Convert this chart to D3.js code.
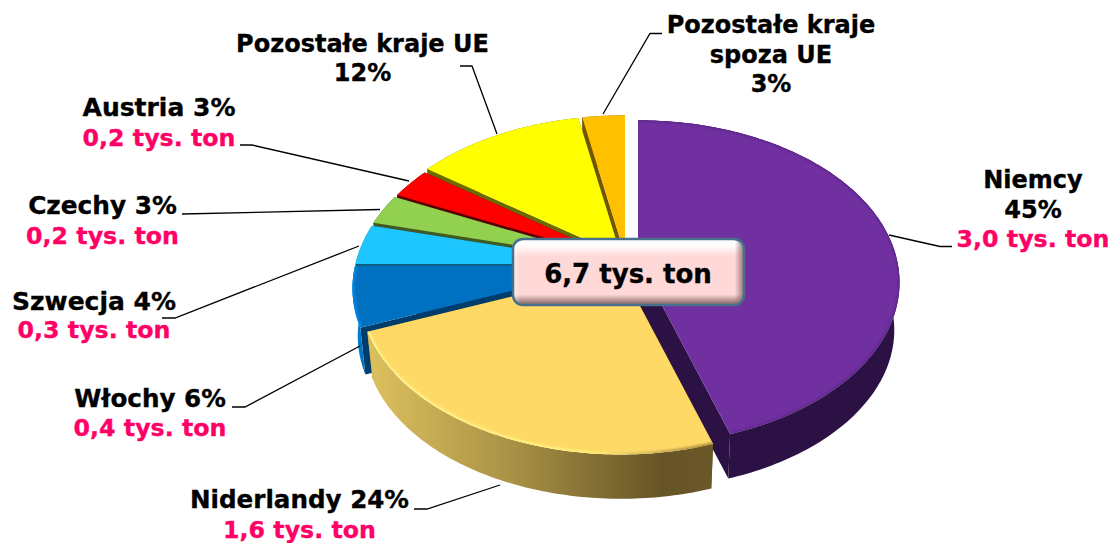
<!DOCTYPE html>
<html>
<head>
<meta charset="utf-8">
<style>
  html, body { margin: 0; padding: 0; background: #fff; }
  svg { display: block; }
  text { font-family: "DejaVu Sans", sans-serif; font-weight: bold; font-size: 24px; text-anchor: middle; stroke-width: 0.35px; }
</style>
</head>
<body>
<div id="chart"></div>
<script src="https://cdn.jsdelivr.net/npm/d3@7"></script>
<script>
// Data
const categories = ["Niemcy", "Niderlandy", "Włochy", "Szwecja", "Czechy", "Austria", "Pozostałe kraje UE", "Pozostałe kraje spoza UE"];
const percents = [45, 24, 6, 4, 3, 3, 12, 3];
const tons = ["3,0", "1,6", "0,4", "0,3", "0,2", "0,2", null, null];
const totalLabel = "6,7 tys. ton";

// Top and side colours
const topColors = ["#7030a0", "#ffd966", "#0070c0", "#1ec6ff", "#92d050", "#ff0000", "#ffff00", "#ffc000"];
const cutColors = ["#2c1244", "#66551f", "#003c6c", "#0e5f80", "#3f5a22", "#5a0000", "#6e6a00", "#705600"];

// Dimensions
const width = 1111, height = 543;
const radiusX = 259, radiusY = 159, tilt = 0.138;
const depth = 48, bottomScale = 0.98;

// Where each slice's centre sits (slices are pulled apart a little)
const apexes = [[638, 260], [621, 270], [614, 266], [614.5, 264], [616, 261], [618.5, 259], [621, 255.5], [625, 255]];
const drawOrder = [0, 7, 6, 5, 4, 3, 2, 1];

// Label placing: x centre, baseline of each line, leader points
const labelLayout = [
    { x: 1033, size: 24, lines: [["Niemcy", 188], ["45%", 218]], leader: [[952, 246.5], [940, 246.5], [889, 235]] },
    { x: 299.5, size: 24.6, lines: [["Niderlandy 24%", 508]], leader: [[414, 509], [427, 509], [500, 485]] },
    { x: 150, size: 24.6, lines: [["Włochy 6%", 407]], leader: [[232, 407], [245, 407], [360, 346]] },
    { x: 94, size: 25, lines: [["Szwecja 4%", 310]], leader: [[162, 318], [175, 318], [359, 246]] },
    { x: 102.5, size: 24.8, lines: [["Czechy 3%", 214]], leader: [[182, 214], [380, 209.5]] },
    { x: 159, size: 25, lines: [["Austria 3%", 116]], leader: [[240, 145], [252, 145], [409, 181]] },
    { x: 362.5, size: 24, lines: [["Pozostałe kraje UE", 52], ["12%", 81]], leader: [[460, 66], [472, 66], [497, 134]] },
    { x: 771, size: 24, lines: [["Pozostałe kraje", 33], ["spoza UE", 63], ["3%", 92]], leader: [[662, 33.5], [650, 33.5], [603, 114]] }
];
const tonBaselines = [247, 538, 436, 338, 244, 146];

const arcs = d3.pie().sort(null).value(d => d)(percents);

const svg = d3.select("#chart")
    .append("svg")
    .attr("width", width)
    .attr("height", height);

const defs = svg.append("defs");

function linearGradient(id, x1, x2, stops) {
    const g = defs.append("linearGradient")
        .attr("id", id)
        .attr("gradientUnits", "userSpaceOnUse")
        .attr("x1", x1).attr("x2", x2).attr("y1", 0).attr("y2", 0);
    stops.forEach(s => g.append("stop").attr("offset", s[0]).attr("stop-color", s[1]));
}

linearGradient("goldWall", 370, 713, [[0, "#dcc05e"], [0.4, "#ab9347"], [0.75, "#75622c"], [0.85, "#665428"], [1, "#6a5829"]]);
linearGradient("goldRim", 370, 713, [[0, "#fff590"], [0.65, "#fff07a"], [0.9, "#b89c48"], [1, "#a08a40"]]);
linearGradient("blueWall", 353, 375, [[0, "#0088dc"], [0.5, "#0070c0"], [1, "#00508c"]]);

defs.append("filter").attr("id", "soft")
    .append("feGaussianBlur").attr("stdDeviation", 1.2);

// Flat point on the pie -> screen point, near edge drawn bigger than far edge
function project(apex, angle, level) {
    const u = Math.sin(angle), v = -Math.cos(angle);
    const w = 1 - tilt * v;
    const s = level ? bottomScale : 1;
    return [
        apex[0] + radiusX * u / w * s,
        apex[1] + radiusY * v / w * s + (level ? depth : 0)
    ];
}

function rimPoints(apex, d, level) {
    const n = Math.max(2, Math.ceil((d.endAngle - d.startAngle) * 60));
    return d3.range(n + 1).map(i => project(apex, d.startAngle + (d.endAngle - d.startAngle) * i / n, level));
}

const line = d3.line();
const closed = d3.line().curve(d3.curveLinearClosed);

const pie = svg.append("g");

drawOrder.forEach(i => {
    const d = arcs[i];
    const apex = apexes[i];
    const group = pie.append("g");
    const top = rimPoints(apex, d, 0);
    const bottom = rimPoints(apex, d, 1);
    const lowApex = [apex[0], apex[1] + depth];

    // Cut faces
    [[top[0], bottom[0]], [top[top.length - 1], bottom[bottom.length - 1]]].forEach(edge => {
        group.append("path")
            .attr("d", closed([apex, edge[0], edge[1], lowApex]))
            .attr("fill", cutColors[i]);
    });

    // Outer wall
    let wall = cutColors[i];
    if (i === 1) wall = "url(#goldWall)";
    if (i === 2) wall = "url(#blueWall)";
    group.append("path")
        .attr("d", closed(top.concat(bottom.slice().reverse())))
        .attr("fill", wall);

    // Top face
    const face = closed([apex].concat(top));
    group.append("path")
        .attr("d", face)
        .attr("fill", topColors[i]);

    // Soft bevel along the rim of the front slices
    if (i === 0 || i === 1 || i === 2) {
        defs.append("clipPath").attr("id", "face" + i)
            .append("path").attr("d", face);
        const rimColor = i === 1 ? "url(#goldRim)" : (i === 0 ? "#5a2688" : "#008ae6");
        group.append("g")
            .attr("clip-path", `url(#face${i})`)
            .append("path")
            .attr("d", line(top))
            .attr("fill", "none")
            .attr("stroke", rimColor)
            .attr("stroke-width", i === 0 ? 2.5 : 4)
            .attr("filter", "url(#soft)");
    }
});

// Labels and leaders
const labels = svg.append("g");

labelLayout.forEach((l, i) => {
    labels.append("path")
        .attr("d", line(l.leader))
        .attr("fill", "none")
        .attr("stroke", "#000")
        .attr("stroke-width", 1.3);
    l.lines.forEach(t => {
        labels.append("text")
            .attr("x", l.x)
            .attr("y", t[1])
            .attr("fill", "#000")
            .attr("stroke", "#000")
            .style("font-size", l.size + "px")
            .text(t[0]);
    });
    if (tons[i]) {
        labels.append("text")
            .attr("x", l.x)
            .attr("y", tonBaselines[i])
            .attr("fill", "#ff0066")
            .attr("stroke", "#ff0066")
            .style("font-size", "23.7px")
            .text(tons[i] + " tys. ton");
    }
});

// Total box
const box = { x: 513, y: 239, w: 231, h: 66, r: 10 };

const vert = defs.append("linearGradient").attr("id", "boxVert").attr("x1", 0).attr("x2", 0).attr("y1", 0).attr("y2", 1);
[[0, "#ffffff", 1], [0.1, "#ffffff", 0.95], [0.26, "#ffffff", 0], [0.84, "#8a6a6a", 0], [0.97, "#8a6a6a", 0.9], [1, "#8a6a6a", 0.9]]
    .forEach(s => vert.append("stop").attr("offset", s[0]).attr("stop-color", s[1]).attr("stop-opacity", s[2]));

const horiz = defs.append("linearGradient").attr("id", "boxHoriz").attr("x1", 0).attr("x2", 1).attr("y1", 0).attr("y2", 0);
[[0, "#ffffff", 0.5], [0.03, "#ffffff", 0], [0.96, "#8a6a6a", 0], [1, "#8a6a6a", 0.9]]
    .forEach(s => horiz.append("stop").attr("offset", s[0]).attr("stop-color", s[1]).attr("stop-opacity", s[2]));

["#ffd8d8", "url(#boxVert)", "url(#boxHoriz)"].forEach(fill => {
    svg.append("rect")
        .attr("x", box.x).attr("y", box.y)
        .attr("width", box.w).attr("height", box.h)
        .attr("rx", box.r)
        .attr("fill", fill);
});

svg.append("rect")
    .attr("x", box.x).attr("y", box.y)
    .attr("width", box.w).attr("height", box.h)
    .attr("rx", box.r)
    .attr("fill", "none")
    .attr("stroke", "#47708f")
    .attr("stroke-width", 2.5);

svg.append("text")
    .attr("x", box.x + box.w / 2 - 0.5)
    .attr("y", 283)
    .attr("fill", "#000")
    .attr("stroke", "#000")
    .style("font-size", "26px")
    .text(totalLabel);
</script>
</body>
</html>
